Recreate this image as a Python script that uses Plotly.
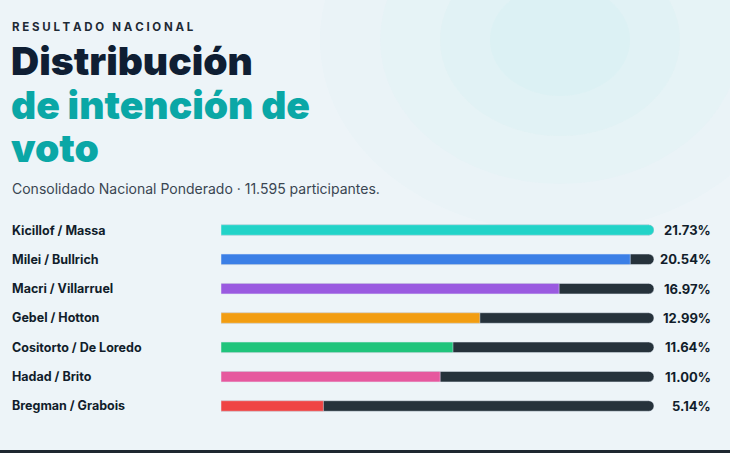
import plotly.graph_objects as go

candidates = ["Kicillof / Massa", "Milei / Bullrich", "Macri / Villarruel", "Gebel / Hotton",
              "Cositorto / De Loredo", "Hadad / Brito", "Bregman / Grabois"]
values = [21.73, 20.54, 16.97, 12.99, 11.64, 11.00, 5.14]
colors = ["#22d3c8", "#3b7fe6", "#9a5ae0", "#f29d12", "#20c47c", "#e6589e", "#ef4444"]
track_color = "#26323b"

W, H = 730, 453
vmax = max(values)
ys = list(range(len(candidates)))

fig = go.Figure()
fig.add_trace(go.Bar(x=[vmax]*len(values), y=ys, orientation="h", marker_color=track_color,
                     width=0.36, hoverinfo="skip", showlegend=False))
fig.add_trace(go.Bar(x=values, y=ys, orientation="h", marker_color=colors,
                     width=0.36, showlegend=False))

top_px, bot_px = 230 - 14.67, 406 + 14.67
fig.update_layout(
    width=W, height=H, margin=dict(l=0, r=0, t=0, b=0),
    barmode="overlay", barcornerradius=6,
    paper_bgcolor="#edf4f8", plot_bgcolor="rgba(0,0,0,0)",
    xaxis=dict(domain=[221/W, 654/W], range=[0, vmax], visible=False, fixedrange=True),
    yaxis=dict(domain=[1-bot_px/H, 1-top_px/H], range=[6.5, -0.5], visible=False),
)

for r, op in [(240, 0.06), (180, 0.08), (120, 0.10), (70, 0.12)]:
    fig.add_shape(type="circle", xref="paper", yref="paper", layer="below",
                  x0=(560-r)/W, x1=(560+r)/W, y0=1-(40+r*0.8)/H, y1=1-(40-r*0.8)/H,
                  fillcolor="#bdeef0", opacity=op, line_width=0)
fig.add_shape(type="rect", xref="paper", yref="paper", x0=0, x1=1, y0=0, y1=3/H,
              fillcolor="#1e2830", line_width=0)

font = "Inter"
def ann(text, x, y, size, color, weight=400, xanchor="left"):
    fig.add_annotation(text=text, x=x/W, y=1-y/H, xref="paper", yref="paper", showarrow=False,
                       xanchor=xanchor, yanchor="middle",
                       font=dict(family=font, size=size, color=color, weight=weight))

ann("R E S U L T A D O   N A C I O N A L", 10, 27, 11.5, "#1e2a35", 700)
ann("Distribución", 9, 60, 39, "#0f1e33", 900)
ann("de intención de", 9, 104, 39, "#0aa7a6", 900)
ann("voto", 9, 147, 39, "#0aa7a6", 900)
ann("Consolidado Nacional Ponderado · 11.595 participantes.", 10, 188, 14, "#3a4652", 400)

for i, (c, v) in enumerate(zip(candidates, values)):
    y = 230 + i*29.33
    ann(c, 10, y, 12.5, "#111d2b", 700)
    ann(f"{v:.2f}%", 713, y, 13, "#111d2b", 700, xanchor="right")

fig.write_html("out.html", config={"displayModeBar": False},
               post_script="document.body.style.margin='0';document.body.style.background='#edf4f8';")
